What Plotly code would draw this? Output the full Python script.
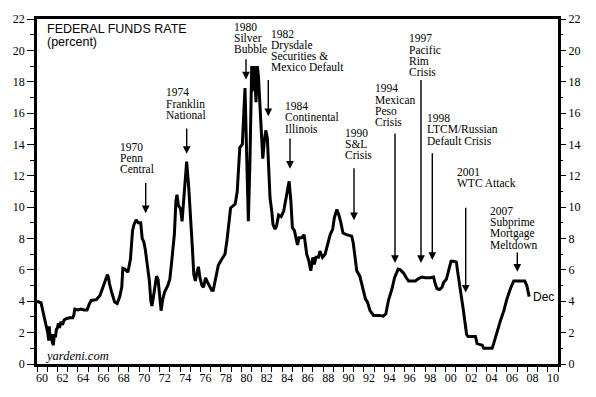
import plotly.graph_objects as go

# ---------------- data ----------------
years = [1960.0, 1960.4, 1960.6, 1960.9, 1961.05, 1961.15, 1961.2, 1961.3, 1961.4, 1961.5,
         1961.6, 1961.7, 1961.8, 1961.9, 1962.0, 1962.1, 1962.2, 1962.35, 1962.5, 1962.65,
         1962.9, 1963.2, 1963.5, 1963.6, 1963.7, 1964.0, 1964.3, 1964.6, 1964.9, 1965.1,
         1965.3, 1965.8, 1966.15, 1966.35, 1966.5, 1966.7, 1966.9, 1967.0, 1967.1, 1967.3,
         1967.45, 1967.6, 1967.85, 1968.1, 1968.3, 1968.4, 1968.6, 1968.9, 1969.15, 1969.35,
         1969.5, 1969.7, 1969.9, 1970.15, 1970.3, 1970.45, 1970.6, 1970.8, 1971.0, 1971.15,
         1971.25, 1971.4, 1971.55, 1971.7, 1971.85, 1972.0, 1972.15, 1972.3, 1972.5, 1972.8,
         1973.0, 1973.15, 1973.3, 1973.45, 1973.6, 1973.7, 1973.85, 1974.05, 1974.2, 1974.35,
         1974.5, 1974.65, 1974.85, 1975.05, 1975.2, 1975.35, 1975.5, 1975.65, 1975.8, 1975.95,
         1976.15, 1976.3, 1976.5, 1976.7, 1976.9, 1977.1, 1977.25, 1977.5, 1977.75, 1978.1,
         1978.4, 1978.6, 1978.75, 1978.95, 1979.4, 1979.6, 1979.85, 1980.1, 1980.36, 1980.53,
         1980.69, 1980.85, 1981.02, 1981.18, 1981.27, 1981.44, 1981.57, 1981.67, 1981.83, 1982.0,
         1982.1, 1982.25, 1982.39, 1982.55, 1982.72, 1982.81, 1982.98, 1983.1, 1983.3, 1983.45,
         1983.65, 1983.9, 1984.15, 1984.4, 1984.68, 1984.85, 1985.0, 1985.2, 1985.35, 1985.5,
         1985.65, 1985.9, 1986.15, 1986.4, 1986.6, 1986.8, 1987.0, 1987.15, 1987.3, 1987.55,
         1987.7, 1987.95, 1988.2, 1988.45, 1988.7, 1988.95, 1989.1, 1989.35, 1989.55, 1989.75,
         1989.95, 1990.3, 1990.8, 1990.95, 1991.15, 1991.3, 1991.6, 1991.9, 1992.15, 1992.35,
         1992.6, 1992.95, 1993.5, 1993.9, 1994.15, 1994.4, 1994.75, 1995.0, 1995.35, 1995.56,
         1995.88, 1996.15, 1996.37, 1997.03, 1997.35, 1997.69, 1998.0, 1998.5, 1998.82, 1998.99,
         1999.16, 1999.41, 1999.65, 1999.8, 2000.07, 2000.29, 2000.53, 2000.78, 2001.05, 2001.22,
         2001.38, 2001.55, 2001.7, 2001.85, 2002.05, 2002.2, 2002.75, 2002.92, 2003.08, 2003.42,
         2003.58, 2003.73, 2004.55, 2004.7, 2005.05, 2005.36, 2005.7, 2006.0, 2006.34, 2006.67,
         2007.0, 2007.75, 2007.95, 2008.08, 2008.18]

rates = [4.0, 3.9, 3.3, 2.5, 2.0, 1.5, 2.4, 1.5, 1.9, 1.4,
         1.2, 1.9, 1.7, 2.2, 2.3, 2.6, 2.3, 2.7, 2.5, 2.8,
         2.9, 2.95, 2.95, 3.1, 3.5, 3.45, 3.5, 3.45, 3.45, 3.8,
         4.05, 4.1, 4.35, 4.7, 5.0, 5.4, 5.7, 5.5, 5.1, 4.6,
         4.2, 3.95, 3.85, 4.3, 4.9, 6.1, 6.05, 5.85, 6.7, 8.5,
         8.9, 9.2, 9.0, 9.0, 8.0, 7.8, 7.3, 6.3, 5.3, 4.0,
         3.7, 4.3, 5.0, 5.6, 5.4, 4.3, 3.4, 4.1, 4.6, 5.0,
         5.4, 6.3, 7.2, 8.3, 10.4, 10.8, 10.1, 9.9, 9.1, 10.4,
         11.5, 12.9, 11.3, 9.5, 7.5, 5.7, 5.3, 5.8, 6.2, 5.5,
         5.0, 4.9, 5.5, 5.2, 4.9, 4.7, 4.7, 5.4, 6.3, 6.7,
         7.0, 7.9, 8.9, 9.95, 10.2, 11.0, 13.8, 14.0, 17.6, 13.5,
         9.1, 13.1, 19.0, 17.4, 19.0, 16.7, 19.0, 18.4, 16.3, 14.2,
         13.1, 14.2, 14.9, 14.4, 12.3, 10.6, 9.75, 8.9, 8.6, 8.8,
         9.5, 9.4, 9.75, 10.6, 11.65, 10.4, 8.7, 8.5, 8.05, 7.6,
         8.05, 8.05, 8.25, 7.0, 6.6, 5.95, 6.8, 6.35, 6.8, 6.8,
         7.2, 6.8, 7.0, 7.6, 8.25, 8.6, 9.3, 9.85, 9.5, 9.0,
         8.35, 8.25, 8.15, 7.75, 6.6, 5.95, 5.6, 4.9, 4.15, 3.95,
         3.4, 3.1, 3.1, 3.05, 3.2, 4.05, 4.8, 5.5, 6.05, 6.0,
         5.8, 5.5, 5.3, 5.3, 5.45, 5.55, 5.5, 5.5, 5.55, 5.1,
         4.8, 4.75, 4.9, 5.2, 5.4, 5.95, 6.55, 6.55, 6.5, 5.7,
         4.8, 4.25, 3.6, 2.75, 1.9, 1.75, 1.75, 1.75, 1.3, 1.25,
         1.2, 1.0, 1.0, 1.3, 2.1, 2.75, 3.4, 4.15, 4.8, 5.3,
         5.3, 5.3, 5.0, 4.7, 4.3]

x_tick_labels = ["60", "62", "64", "66", "68", "70", "72", "74", "76", "78", "80", "82", "84",
                 "86", "88", "90", "92", "94", "96", "98", "00", "02", "04", "06", "08", "10"]
y_tick_values = [0, 2, 4, 6, 8, 10, 12, 14, 16, 18, 20, 22]

events = [
    ["1970", "Penn", "Central"],
    ["1974", "Franklin", "National"],
    ["1980", "Silver", "Bubble"],
    ["1982", "Drysdale", "Securities &", "Mexico Default"],
    ["1984", "Continental", "Illinois"],
    ["1990", "S&L", "Crisis"],
    ["1994", "Mexican", "Peso", "Crisis"],
    ["1997", "Pacific", "Rim", "Crisis"],
    ["1998", "LTCM/Russian", "Default Crisis"],
    ["2001", "WTC Attack"],
    ["2007", "Subprime", "Mortgage", "Meltdown"],
]

# ---------------- layout geometry ----------------
W, H = 596, 397
L, R, T, B = 37, 558, 19, 367
X0, X1 = 1960, 2011
Y0, Y1 = 0, 22


def px2x(px):
    return X0 + (px - L) * (X1 - X0) / (R - L)


def py2y(py):
    return Y0 + (B - py) * (Y1 - Y0) / (B - T)


# text block placement (left x, first line center y) and arrow (x, tail y, tip y) in pixels
event_layout = [
    (118, 148, 145.7, 183, 215),
    (164, 93, 186.7, 128, 155),
    (231.5, 27, 246, 58, 80),
    (269, 34, 268.3, 79, 117),
    (283.3, 107, 290, 138, 170),
    (343.3, 134, 354, 168, 222),
    (372.7, 89, 395, 133, 265),
    (406.7, 38.5, 421, 79, 265),
    (425, 119, 432.3, 153, 262),
    (455, 173.3, 465.7, 208, 295),
    (488.3, 213, 517.3, 253, 274),
]
LINE_H = 11.3
SERIF = "Liberation Serif"
SANS = "Liberation Sans"

fig = go.Figure()
fig.add_trace(go.Scatter(x=years, y=rates, mode="lines",
                         line=dict(color="black", width=3),
                         showlegend=False, hoverinfo="skip"))
fig.add_trace(go.Scatter(x=[None], y=[None], xaxis="x2", yaxis="y2",
                         showlegend=False, hoverinfo="skip"))

annotations = []
for lines, (tx, ty, ax_, tail, tip) in zip(events, event_layout):
    for i, s in enumerate(lines):
        annotations.append(dict(x=px2x(tx), y=py2y(ty + i * LINE_H), xref="x", yref="y",
                                text=s, showarrow=False, xanchor="left", yanchor="middle",
                                font=dict(family=SERIF, size=11.5, color="black")))
    annotations.append(dict(x=px2x(ax_), y=py2y(tip), ax=px2x(ax_), ay=py2y(tail),
                            xref="x", yref="y", axref="x", ayref="y", text="",
                            showarrow=True, arrowhead=2, arrowsize=1.1, arrowwidth=1.4,
                            arrowcolor="black"))

annotations += [
    dict(x=px2x(45), y=py2y(29.5), xref="x", yref="y", text="FEDERAL FUNDS RATE",
         showarrow=False, xanchor="left", yanchor="middle",
         font=dict(family=SANS, size=12.5, color="black")),
    dict(x=px2x(45), y=py2y(42), xref="x", yref="y", text="(percent)",
         showarrow=False, xanchor="left", yanchor="middle",
         font=dict(family=SANS, size=12.5, color="black")),
    dict(x=px2x(42.5), y=py2y(359), xref="x", yref="y", text="<i>yardeni.com</i>",
         showarrow=False, xanchor="left", yanchor="middle",
         font=dict(family=SERIF, size=12.5, color="black")),
    dict(x=px2x(531), y=py2y(299), xref="x", yref="y", text="Dec",
         showarrow=False, xanchor="left", yanchor="middle",
         font=dict(family=SANS, size=12, color="black")),
]

tick_font = dict(family=SERIF, size=12, color="black")
yaxis_common = dict(range=[Y0, Y1], tickvals=y_tick_values, ticks="outside", ticklen=7,
                    tickwidth=1, tickcolor="black", tickfont=tick_font, showgrid=False,
                    zeroline=False, fixedrange=True,
                    minor=dict(dtick=1, ticks="outside", ticklen=4, tickcolor="black",
                               showgrid=False))

fig.update_layout(
    width=W, height=H,
    margin=dict(l=L, r=W - R, t=T, b=H - B, pad=0),
    paper_bgcolor="white", plot_bgcolor="white",
    font=dict(family=SERIF, color="black"),
    xaxis=dict(range=[X0, X1], tickvals=list(range(1960, 2012)), ticks="outside", ticklen=5,
               tickwidth=1, tickcolor="black", showticklabels=False, showgrid=False,
               zeroline=False, showline=True, linecolor="black", linewidth=2.5,
               mirror=True),
    xaxis2=dict(range=[X0, X1], overlaying="x", anchor="y", side="bottom",
                tickvals=[1960.5 + 2 * i for i in range(len(x_tick_labels))],
                ticktext=x_tick_labels, ticks="outside", ticklen=3,
                tickcolor="rgba(0,0,0,0)", tickfont=tick_font, showgrid=False,
                zeroline=False, showline=False),
    yaxis=dict(**yaxis_common, side="left", showline=True, linecolor="black",
               linewidth=2.5, mirror=True),
    yaxis2=dict(**yaxis_common, side="right", overlaying="y", anchor="x",
                showline=False),
    annotations=annotations,
    showlegend=False,
)

fig.write_html("out.html", config={"displayModeBar": False},
               post_script="document.body.style.margin='0';document.body.style.overflow='hidden';")
